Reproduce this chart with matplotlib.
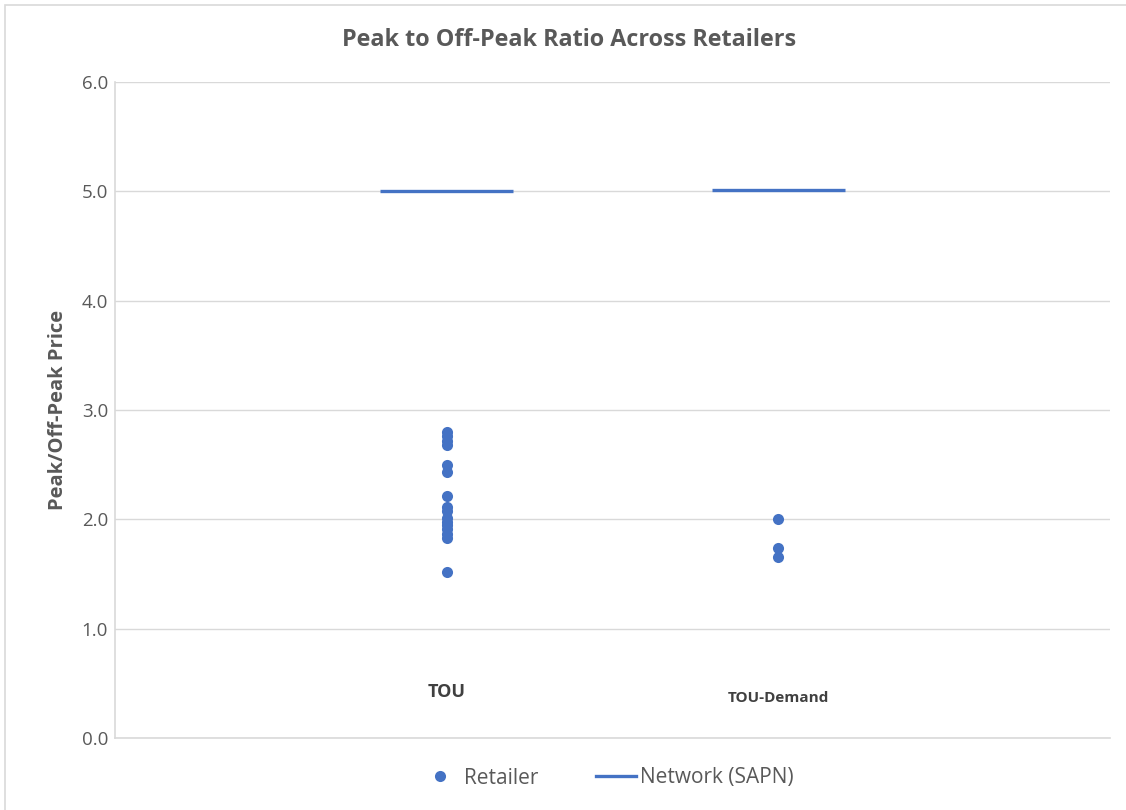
import matplotlib
matplotlib.use("Agg")
import matplotlib.pyplot as plt
from matplotlib.lines import Line2D
from matplotlib.patches import Rectangle

plt.rcParams['font.family'] = ['Open Sans', 'DejaVu Sans']

# Tariff categories and their x positions
categories = ["TOU", "TOU-Demand"]
cat_positions = [1, 2]

# Retailer peak/off-peak price ratios per category
tou_ratios = [2.80, 2.76, 2.72, 2.68, 2.50, 2.43, 2.21, 2.11, 2.08,
              2.01, 1.98, 1.95, 1.91, 1.87, 1.83, 1.52]
tou_demand_ratios = [2.00, 1.74, 1.66]
retailer_ratios = [tou_ratios, tou_demand_ratios]

# Network (SAPN) ratio per category
network_ratios = [5.00, 5.015]

y_ticks = [0.0, 1.0, 2.0, 3.0, 4.0, 5.0, 6.0]

blue = "#4472C4"
grey_text = "#595959"
grid_col = "#D9D9D9"

fig = plt.figure(figsize=(11.26, 8.10), dpi=100)
ax = fig.add_axes([115 / 1126, 72 / 810, 995 / 1126, 656 / 810])

# Network level shown as a short horizontal bar at each category
half_width = 0.2
for x, v in zip(cat_positions, network_ratios):
    ax.plot([x - half_width, x + half_width], [v, v], color=blue,
            linewidth=2.4, solid_capstyle='butt', zorder=3)

# Retailer dots
for x, vals in zip(cat_positions, retailer_ratios):
    ax.plot([x] * len(vals), vals, linestyle='none', marker='o',
            markersize=8.0, color=blue, markeredgewidth=0, zorder=4)

# Category labels inside the plot area
ax.text(cat_positions[0], 0.42, categories[0], ha='center', va='center',
        fontsize=13, fontweight='bold', color='#404040')
ax.text(cat_positions[1], 0.365, categories[1], ha='center', va='center',
        fontsize=11, fontweight='bold', color='#404040')

ax.set_xlim(0, 3)
ax.set_ylim(0, 6)
ax.set_yticks(y_ticks)
ax.set_yticklabels([f"{t:.1f}" for t in y_ticks])
ax.set_xticks([])
ax.tick_params(axis='y', length=0, pad=5, labelsize=13.5, labelcolor=grey_text)
ax.grid(axis='y', color=grid_col, linewidth=1.0)
ax.set_axisbelow(True)

for side in ['top', 'right']:
    ax.spines[side].set_visible(False)
for side in ['left', 'bottom']:
    ax.spines[side].set_color(grid_col)
    ax.spines[side].set_linewidth(1.2)

ax.set_ylabel("Peak/Off-Peak Price", fontsize=14.5, fontweight='bold',
              color=grey_text, labelpad=10)

fig.text(0.505, 1 - 40 / 810, "Peak to Off-Peak Ratio Across Retailers",
         ha='center', va='center', fontsize=16.8, fontweight='bold',
         color=grey_text)

handles = [
    Line2D([], [], linestyle='none', marker='o', markersize=8,
           color=blue, markeredgewidth=0, label='Retailer'),
    Line2D([], [], color=blue, linewidth=2.4, label='Network (SAPN)'),
]
fig.legend(handles=handles, loc='center', bbox_to_anchor=(0.539, 1 - 778 / 810),
           ncol=2, frameon=False, fontsize=15, labelcolor=grey_text,
           handlelength=1.9, handletextpad=0.2, columnspacing=2.8)

# Chart border
fig.patches.append(Rectangle((5 / 1126, -0.01), 1.2, 1 - 5 / 810 + 0.01,
                             transform=fig.transFigure, fill=False,
                             edgecolor='#D9D9D9', linewidth=1.2))

fig.savefig("out.png", dpi=100, facecolor='white')
